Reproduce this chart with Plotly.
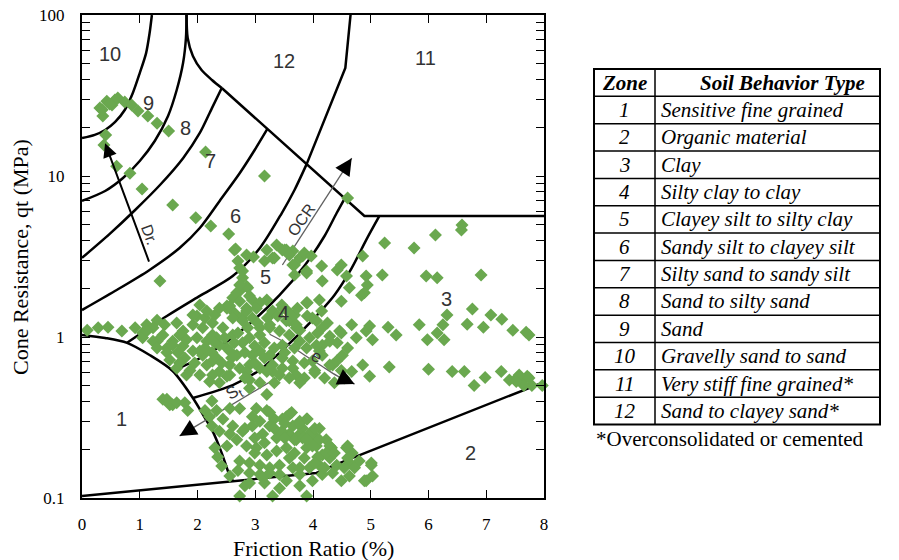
import numpy as np
import plotly.graph_objects as go

# ---------------- measured CPT points (friction ratio %, cone resistance MPa) ----------------
pts_sand = [(0.31,26.4),(0.36,23.6),(0.43,29.1),(0.52,27.6),(0.57,29.6),(0.62,30.5),(0.74,28.8),(0.86,27.6),
            (0.97,25.3),(1.14,23.6),(1.30,21.3),(1.50,19.0),(0.41,18.0),(0.38,15.6),(2.14,14.1),(3.16,10.0),
            (0.60,11.5),(0.83,10.4),(1.04,8.3),(1.57,6.6),(1.97,5.5),(2.23,4.9),(2.54,4.37),(2.66,3.52),
            (1.35,2.23),(0.48,28.0),(0.35,25.8)]
pts_row = [(0.09,1.10),(0.28,1.14),(0.45,1.15),(0.69,1.09),(0.92,1.14),(1.12,1.19),(1.05,1.06)]
pts_silt = [(2.70,2.96),(2.85,3.23),(2.97,3.14),(3.20,3.47),(3.33,3.10),(3.37,3.73),(3.54,3.47),(3.65,2.80),
            (2.73,2.68),(2.78,2.33),(2.87,2.02),(2.73,1.93),(2.61,1.75),(3.47,3.47),(3.30,3.10),(3.16,2.96),
            (2.85,2.07),(2.68,1.88),(2.78,2.57),(2.64,3.47),(3.82,3.18),(3.89,2.57),(2.73,2.10),(2.90,1.80),
            (3.65,3.42)]
pts_clay = [(3.51,3.47),(3.59,3.23),(3.68,2.80),(3.77,3.10),(3.85,3.33),(3.97,3.18),(3.68,2.43),(3.89,2.50),
            (4.15,2.76),(4.16,2.23),(4.42,2.61),(4.49,2.80),(4.58,2.39),(4.63,2.02),(4.86,3.18),(4.92,2.39),
            (4.94,2.10),(4.84,1.82),(4.89,1.88),(4.49,1.67),(4.60,7.30),(5.20,2.43),(5.24,3.83),(5.75,3.57),
            (6.12,4.30),(6.58,4.96),(6.57,4.62),(5.96,2.39),(6.15,2.33),(6.91,2.43),(6.32,1.37),(6.76,1.49),
            (7.08,1.37),(7.27,1.29),(7.46,1.10),(7.69,1.07),(7.74,1.03),(6.67,1.20),(6.95,1.15),(6.25,1.19),
            (5.84,1.19),(5.30,1.15),(5.44,1.03),(6.15,1.06),(5.98,0.96),(6.27,0.96),(4.67,1.19),(4.49,1.06),
            (4.75,0.99),(4.92,1.09),(5.03,0.96),(4.98,1.17),(4.15,1.45),(3.90,1.63),(3.68,1.37),(4.06,1.26),
            (4.29,1.01),(4.16,0.89),(4.11,0.82),(4.86,0.67),(4.67,0.61),(4.49,0.62),(4.34,0.67),(4.98,0.57),
            (5.32,0.65),(6.00,0.63),(6.41,0.61),(6.62,0.61),(6.79,0.50),(6.98,0.56),(7.26,0.61),(7.40,0.54),
            (7.53,0.556),(7.62,0.53),(7.71,0.57),(7.79,0.50),(7.97,0.50),(7.57,0.58),(7.65,0.50),(7.52,0.53),
            (7.74,0.556)]
pts_dense = [(1.30,1.27),(1.43,1.19),(1.64,1.22),(1.75,1.09),(1.92,1.19),(1.99,1.35),(2.13,1.31),(2.30,1.37),
             (2.51,1.56),(2.64,1.41),(2.76,1.31),(2.85,1.51),(2.95,1.70),(3.08,1.63),(3.20,1.70),(3.30,1.45),
             (3.46,1.58),(3.59,1.26),(3.71,1.19),(3.89,1.63),(3.99,1.31),(4.11,1.70),(4.16,1.14),(4.29,0.94),
             (4.46,1.09),(2.51,1.51),(1.92,1.37),(2.33,0.99),(2.51,0.855),(2.68,0.77),(2.78,0.92),(2.90,0.99),
             (3.08,1.03),(3.25,1.14),(3.08,0.82),(3.25,0.77),(3.47,0.89),(3.59,1.03),(3.77,0.94),(3.89,0.855),
             (4.06,0.89),(4.16,0.77),(4.29,0.67),(4.41,0.71),(4.51,0.77),(3.99,0.71),(3.65,0.71),(3.47,0.64),
             (3.30,0.61),(3.08,0.64),(2.90,0.67),(2.73,0.64),(2.56,0.58),(2.38,0.61),(2.26,0.71),(2.09,0.77),
             (1.92,0.82),(1.75,0.88),(1.57,0.94),(1.40,1.03),(1.30,0.94),(1.23,1.14),(1.47,0.855),(1.05,0.99),
             (1.23,0.94),(1.30,0.855),(1.47,0.80),(1.57,0.89),(1.12,1.09),(1.69,1.03),(1.81,0.96),(2.04,0.82),
             (2.16,0.94),(2.26,1.03),(2.38,0.89),(2.56,0.82),(2.61,1.03),(2.95,0.77),(3.20,0.61),(3.30,0.67),
             (3.47,0.74),(3.65,0.64),(3.71,0.58),(3.42,0.58),(2.85,0.61),(2.56,0.67),(2.33,0.74),(2.16,0.67),
             (2.04,0.58),(1.81,0.58),(1.64,0.64),(2.26,0.58),(2.51,0.57),(2.04,1.58),(2.16,1.45),(2.38,1.51),
             (2.56,1.56),(2.73,1.67),(2.85,1.45),(3.02,1.51),(3.47,1.51),(2.61,1.31),(2.78,1.26),(2.95,1.31),
             (3.08,1.14),(3.25,1.19),(3.42,1.09),(3.54,1.26),(3.71,1.14),(2.90,0.54),(3.08,0.52),(2.90,0.48),
             (3.85,0.556),(4.03,0.62),
             (1.78,0.74),(1.95,0.69),(2.13,0.855),(2.30,0.92),(2.47,0.99),(2.64,0.92),(2.82,0.80),(2.99,0.69),
             (3.16,0.74),(3.33,0.855),(3.51,0.80),(3.68,0.855),(3.85,0.69),(4.03,0.60),(4.20,0.556),(4.37,0.52),
             (4.54,0.556),(3.77,0.52),(3.59,0.556),(3.33,0.52),(1.69,0.69),(1.87,0.62),(2.21,0.53),(2.38,0.52),
             (2.82,0.556),(2.59,0.74),(2.42,0.69),(1.99,0.99),(2.09,1.14),(2.26,1.22),(2.44,1.14),(2.70,1.06),
             (2.87,1.14),(3.04,1.22),(3.21,1.31),(3.39,1.35),(3.56,1.45),(3.73,1.51),(3.90,1.35),(4.08,1.06),
             (4.25,1.22),(4.42,0.92),(4.60,0.855),(3.94,0.99),(3.77,1.10),(3.16,0.92),(2.99,0.88),(2.25,0.80),
             (1.66,0.80),(1.52,0.72)]
pts_sens = [(1.40,0.41),(1.47,0.41),(1.52,0.38),(1.57,0.38),(1.64,0.39),(1.78,0.39),(1.83,0.35),(2.13,0.35),
            (2.25,0.40),(2.33,0.35),(2.25,0.28),(2.21,0.32),(2.44,0.31),(2.38,0.26),(2.30,0.205),(2.35,0.18),
            (2.42,0.158),(2.51,0.21)]
pts_low = [(2.56,0.36),(2.73,0.36),(3.02,0.36),(3.20,0.35),(3.33,0.31),(2.95,0.32),(2.78,0.26),(3.08,0.30),
           (3.25,0.28),(3.37,0.236),(3.59,0.25),(3.77,0.25),(4.06,0.236),(4.23,0.23),(2.61,0.28),(2.56,0.25),
           (2.68,0.23),(2.85,0.21),(3.02,0.205),(3.20,0.185),(3.37,0.196),(3.54,0.205),(3.71,0.23),(3.89,0.205),
           (3.59,0.177),(3.42,0.16),(3.25,0.154),(3.08,0.16),(2.90,0.165),(2.73,0.17),(2.70,0.148),(2.90,0.143),
           (3.08,0.14),(3.25,0.143),(3.42,0.14),(3.65,0.154),(3.77,0.14),(3.94,0.154),(4.11,0.16),(4.29,0.177),
           (4.41,0.16),(2.56,0.137),(2.73,0.103),(2.82,0.119),(3.13,0.133),(3.30,0.103),(3.54,0.128),(3.77,0.119),
           (3.89,0.103),(3.99,0.128),(4.16,0.14),(4.34,0.143),(4.49,0.128),(4.63,0.137),(4.92,0.128),(5.03,0.137),
           (5.01,0.16),(4.80,0.17),(4.63,0.165),(4.68,0.19),(4.60,0.21),(4.32,0.205),(4.16,0.185),(4.06,0.21),
           (3.94,0.25),(3.82,0.27),(3.89,0.31),(3.65,0.28),(3.47,0.31),(3.59,0.33),(3.77,0.30),(3.46,0.26),
           (3.13,0.25),(2.95,0.28),(3.54,0.32),(3.63,0.34),(3.77,0.29),(3.90,0.31),(3.68,0.23),(3.82,0.236),
           (3.99,0.21),(4.11,0.23),(4.29,0.21),(4.58,0.205),(4.08,0.18),(4.23,0.19),(4.60,0.177),(5.01,0.165),
           (4.89,0.128),(3.20,0.44),(4.11,0.27),(3.89,0.23),
           (2.99,0.236),(3.16,0.22),(3.33,0.27),(3.51,0.236),(3.68,0.19),(3.85,0.177),(4.03,0.165),(4.20,0.154),
           (3.16,0.124),(3.42,0.115),(2.99,0.19),(2.82,0.27),(3.25,0.34),(3.51,0.29),(4.03,0.27),(4.37,0.19),
           (4.54,0.154),(4.72,0.154),(2.90,0.124),(3.77,0.154)]

# ---------------- Robertson (1986) zone boundaries ----------------
b10_rf = [1.21, 1.17, 1.11, 1.00, 0.88, 0.74, 0.57, 0.40, 0.22, 0.0]
b10_qt = [100, 77, 58, 43.6, 32.8, 25.7, 21.6, 19.3, 18.0, 17.2]
b9_rf = [1.81, 1.80, 1.75, 1.64, 1.49, 1.26, 1.00, 0.71, 0.40, 0.0]
b9_qt = [100, 72, 50.3, 34.2, 23.6, 16.5, 12.4, 9.72, 8.07, 7.0]
cusp_rf = [1.81, 1.83, 1.92, 2.07, 2.25, 2.42]
cusp_qt = [100, 72, 55.6, 45.5, 39.5, 35.2]
b12_rf = [2.42, 4.89, 8.0]
b12_qt = [35.2, 5.65, 5.65]
b11_rf = [4.65, 4.61, 4.56, 3.89]
b11_qt = [100, 72, 46.9, 11.85]
b8_rf = [2.42, 2.25, 2.04, 1.75, 1.35, 0.92, 0.48, 0.0]
b8_qt = [35.2, 26.4, 18.5, 12.9, 8.79, 6.15, 4.37, 3.10]
b7_rf = [3.21, 2.99, 2.73, 2.42, 2.04, 1.69, 1.17, 0.57, 0.0]
b7_qt = [19.6, 14.5, 10.4, 7.30, 4.75, 3.57, 2.61, 1.93, 1.47]
b6_rf = [3.89, 3.68, 3.46, 3.08, 2.61, 2.04, 1.47, 0.78]
b6_qt = [11.85, 8.19, 5.89, 3.57, 2.39, 1.80, 1.35, 0.92]
b5_rf = [1.57, 2.21, 2.82, 3.42, 3.85, 4.20, 4.41, 4.55]
b5_qt = [0.615, 0.796, 1.14, 1.82, 2.76, 4.24, 5.89, 7.27]
b4_rf = [1.92, 2.61, 3.08, 3.51, 3.94, 4.37, 4.67, 4.92, 5.15]
b4_qt = [0.418, 0.503, 0.624, 0.854, 1.22, 1.82, 2.68, 4.0, 5.65]
b1_rf = [0.0, 0.40, 0.78, 1.17, 1.57, 1.92, 2.13, 2.26, 2.42, 2.54, 2.61]
b1_qt = [1.03, 0.986, 0.92, 0.773, 0.615, 0.418, 0.314, 0.261, 0.19, 0.143, 0.128]
b2_rf = [0.0, 2.61, 4.06, 4.20, 4.35, 8.0]
b2_qt = [0.103, 0.128, 0.143, 0.150, 0.159, 0.525]

# zone numbers inside chart
zone_ids = ["10", "12", "11", "9", "8", "7", "6", "5", "4", "3", "2", "1"]
zone_rf = [0.48, 3.49, 5.94, 1.16, 1.80, 2.23, 2.66, 3.18, 3.49, 6.31, 6.72, 0.69]
zone_qt = [57, 52, 54, 28.4, 19.9, 12.4, 5.65, 2.36, 1.41, 1.72, 0.19, 0.31]

# trend arrows (tail -> head)
dr_arrow = [(1.17, 2.88), (0.40, 16.0)]
ocr_arrow = [(3.47, 2.80), (4.67, 12.9)]
st_arrow = [(3.42, 0.57), (1.69, 0.243)]
e_curve_rf = [3.25, 3.56, 3.85, 4.15, 4.42, 4.72]
e_curve_qt = [1.04, 0.905, 0.773, 0.66, 0.573, 0.51]

# table
table_zones = ["1", "2", "3", "4", "5", "6", "7", "8", "9", "10", "11", "12"]
table_types = ["Sensitive fine grained", "Organic material", "Clay", "Silty clay to clay",
               "Clayey silt to silty clay", "Sandy silt to clayey silt", "Silty sand to sandy silt",
               "Sand to silty sand", "Sand", "Gravelly sand to sand", "Very stiff fine grained*",
               "Sand to clayey sand*"]

# ---------------- figure ----------------
fig = go.Figure()
for rfv, qtv, shp in [(b10_rf, b10_qt, "spline"), (b9_rf, b9_qt, "spline"), (cusp_rf, cusp_qt, "spline"),
                      (b12_rf, b12_qt, "linear"), (b11_rf, b11_qt, "linear"), (b8_rf, b8_qt, "spline"),
                      (b7_rf, b7_qt, "spline"), (b6_rf, b6_qt, "spline"), (b5_rf, b5_qt, "spline"),
                      (b4_rf, b4_qt, "spline"), (b1_rf, b1_qt, "spline"), (b2_rf, b2_qt, "linear")]:
    line = dict(color="black", width=2.5, shape=shp)
    if shp == "spline":
        line["smoothing"] = 0.8
    fig.add_trace(go.Scatter(x=rfv, y=qtv, mode="lines", line=line, hoverinfo="skip"))

# gray trend lines
GRAY = "#606060"
fig.add_trace(go.Scatter(x=[ocr_arrow[0][0], ocr_arrow[1][0]], y=[ocr_arrow[0][1], ocr_arrow[1][1]],
                         mode="lines", line=dict(color=GRAY, width=1.3), hoverinfo="skip"))
fig.add_trace(go.Scatter(x=[st_arrow[0][0], st_arrow[1][0]], y=[st_arrow[0][1], st_arrow[1][1]],
                         mode="lines", line=dict(color=GRAY, width=1.3), hoverinfo="skip"))
fig.add_trace(go.Scatter(x=e_curve_rf, y=e_curve_qt, mode="lines",
                         line=dict(color=GRAY, width=1.3, shape="spline"), hoverinfo="skip"))

all_pts = pts_sand + pts_row + pts_silt + pts_clay + pts_dense + pts_sens + pts_low
fig.add_trace(go.Scatter(x=[p[0] for p in all_pts], y=[p[1] for p in all_pts], mode="markers",
                         marker=dict(symbol="diamond", size=10, color="#6aa84f"),
                         cliponaxis=False, hoverinfo="skip"))


def head(tail, tip, width, size, frac=0.15):
    lx0, ly0 = tail[0], np.log10(tail[1])
    lx1, ly1 = tip[0], np.log10(tip[1])
    ax = lx1 - (lx1 - lx0) * frac
    ay = ly1 - (ly1 - ly0) * frac
    fig.add_annotation(x=lx1, y=ly1, ax=ax, ay=ay, xref="x", yref="y", axref="x", ayref="y",
                       text="", showarrow=True, arrowhead=2, arrowsize=size, arrowwidth=width,
                       arrowcolor="black")


fig.add_annotation(x=dr_arrow[1][0], y=np.log10(dr_arrow[1][1]), ax=dr_arrow[0][0], ay=np.log10(dr_arrow[0][1]),
                   xref="x", yref="y", axref="x", ayref="y", text="", showarrow=True,
                   arrowhead=2, arrowsize=1.4, arrowwidth=2, arrowcolor="black")
head(ocr_arrow[0], ocr_arrow[1], 1.3, 2.6, 0.1)
head(st_arrow[0], st_arrow[1], 1.3, 2.6, 0.1)
head((e_curve_rf[-2], e_curve_qt[-2]), (e_curve_rf[-1], e_curve_qt[-1]), 1.3, 2.6, 0.6)

SANS = "Liberation Sans, Arial, sans-serif"
for t, xv, qv in zip(zone_ids, zone_rf, zone_qt):
    fig.add_annotation(x=xv, y=np.log10(qv), text=t, showarrow=False, xanchor="center", yanchor="middle",
                       font=dict(family=SANS, size=20, color="#333333"))
fig.add_annotation(x=1.17, y=np.log10(4.36), text="Dr.", showarrow=False, textangle=70,
                   font=dict(family=SANS, size=16, color="#333333"))
fig.add_annotation(x=3.80, y=np.log10(5.4), text="OCR", showarrow=False, textangle=-55,
                   font=dict(family=SANS, size=16, color="#333333"))
fig.add_annotation(x=4.06, y=np.log10(0.76), text="e", showarrow=False, textangle=30,
                   font=dict(family=SANS, size=17, color="#333333"))
fig.add_annotation(x=2.64, y=np.log10(0.449), text="S<sub>t</sub>", showarrow=False, textangle=-30,
                   font=dict(family=SANS, size=17, color="#333333"))

SERIF = "Liberation Serif, Times New Roman, serif"
fig.update_layout(width=899, height=560, margin=dict(l=82, r=355, t=15, b=62, autoexpand=False),
                  plot_bgcolor="white", paper_bgcolor="white", showlegend=False,
                  font=dict(family=SERIF, color="black"))
fig.update_xaxes(range=[0, 8], tick0=0, dtick=1, showline=True, linecolor="black", linewidth=2,
                 mirror="ticks", ticks="inside", ticklen=8, tickcolor="black", tickwidth=1,
                 showgrid=False, zeroline=False, tickfont=dict(family=SERIF, size=17),
                 ticklabelstandoff=10, automargin=False)
fig.update_yaxes(type="log", range=[-1, 2], dtick=1, showline=True, linecolor="black", linewidth=2,
                 mirror="ticks", ticks="inside", ticklen=8, tickcolor="black", tickwidth=1,
                 minor=dict(ticks="inside", ticklen=8, tickcolor="black", tickwidth=1, dtick="D1",
                            showgrid=False),
                 showgrid=False, zeroline=False, tickfont=dict(family=SERIF, size=17),
                 ticklabelstandoff=12, automargin=False)

# layout helpers: pixel position -> paper fraction
PW, PH = 899 - 82 - 355, 560 - 15 - 62


def px(v):
    return (v - 82) / PW


def py(v):
    return (498 - v) / PH


def label(xp, yp, text, size, anchor="center", **kw):
    font = dict(family=SERIF, size=size, color="black")
    font.update(kw.pop("font", {}))
    fig.add_annotation(xref="paper", yref="paper", x=px(xp), y=py(yp), text=text, showarrow=False,
                       xanchor=anchor, yanchor="middle", font=font, **kw)


label(20, 257, "Cone Resistance, qt (MPa)", 22, textangle=-90)
label(313, 548, "Friction Ratio (%)", 22)

# ---------------- table ----------------
T_L, T_R, T_D, T_TOP, ROW = 594, 880, 655, 69, 27.35
n_rows = len(table_zones) + 1
T_BOT = T_TOP + ROW * n_rows
fig.add_shape(type="rect", xref="paper", yref="paper", x0=px(T_L), x1=px(T_R), y0=py(T_TOP), y1=py(T_BOT),
              line=dict(color="black", width=2))
fig.add_shape(type="line", xref="paper", yref="paper", x0=px(T_D), x1=px(T_D), y0=py(T_TOP), y1=py(T_BOT),
              line=dict(color="black", width=1.5))
for i in range(1, n_rows):
    yy = T_TOP + ROW * i
    fig.add_shape(type="line", xref="paper", yref="paper", x0=px(T_L), x1=px(T_R), y0=py(yy), y1=py(yy),
                  line=dict(color="black", width=1.5))
label((T_L + T_D) / 2, T_TOP + ROW / 2, "Zone", 21, font=dict(style="italic", weight="bold"))
label(782, T_TOP + ROW / 2, "Soil Behavior Type", 21, font=dict(style="italic", weight="bold"))
for i, (z, t) in enumerate(zip(table_zones, table_types)):
    yc = T_TOP + ROW * (i + 1.5)
    label((T_L + T_D) / 2, yc, z, 21, font=dict(style="italic"))
    label(T_D + 4, yc, t, 21, anchor="left", font=dict(style="italic"))
label(T_L, T_BOT + 14, "*Overconsolidated or cemented", 21, anchor="left")

fig.write_html("out.html")
